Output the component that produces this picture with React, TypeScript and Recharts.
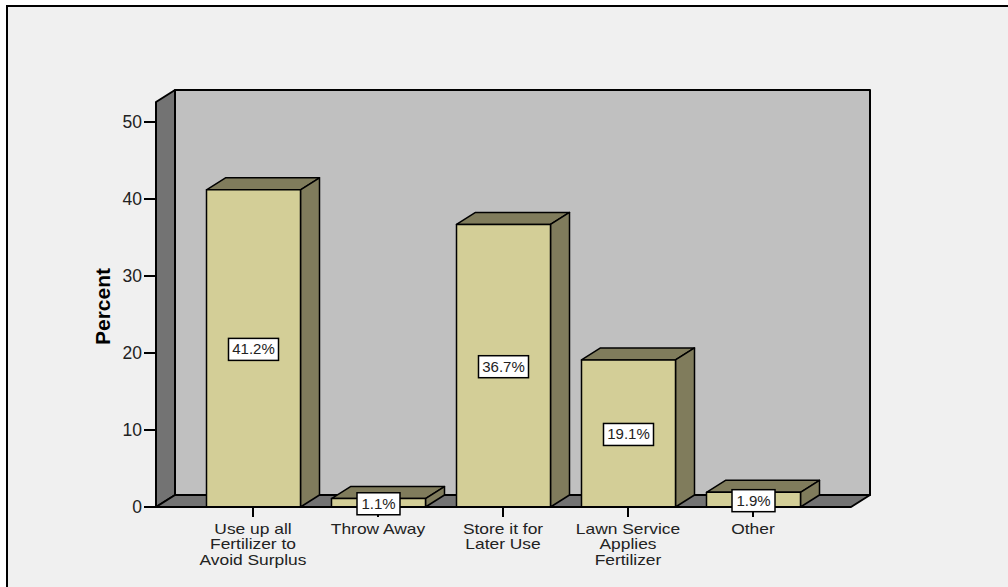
import { Bar, BarChart, LabelList, XAxis, YAxis, usePlotArea } from 'recharts'

const categories = ['Use up all Fertilizer to Avoid Surplus', 'Throw Away', 'Store it for Later Use', 'Lawn Service Applies Fertilizer', 'Other']
const tickLines: Record<string, string[]> = {
  'Use up all Fertilizer to Avoid Surplus': ['Use up all', 'Fertilizer to', 'Avoid Surplus'],
  'Throw Away': ['Throw Away'],
  'Store it for Later Use': ['Store it for', 'Later Use'],
  'Lawn Service Applies Fertilizer': ['Lawn Service', 'Applies', 'Fertilizer'],
  Other: ['Other'],
}
const percents = [41.2, 1.1, 36.7, 19.1, 1.9]
const yTicks = [0, 10, 20, 30, 40, 50]

const data = categories.map((name, i) => ({ name, percent: percents[i] }))

const DX = 19
const DY = 12
const FONT = '"Liberation Sans", Arial, sans-serif'
const INK = '#000'

function pts(list: number[][]) {
  return list.map((p) => p.join(',')).join(' ')
}

function Walls() {
  const plot = usePlotArea()
  if (!plot) return null
  const l = plot.x
  const r = plot.x + plot.width
  const t = plot.y
  const b = plot.y + plot.height
  return (
    <g stroke={INK} strokeWidth={2} strokeLinejoin="round">
      <polygon points={pts([[l + DX, t - DY], [r + DX, t - DY], [r + DX, b - DY], [l + DX, b - DY]])} fill="#c0c0c0" />
      <polygon points={pts([[l, t], [l + DX, t - DY], [l + DX, b - DY], [l, b]])} fill="#737373" />
      <polygon points={pts([[l, b], [l + DX, b - DY], [r + DX, b - DY], [r, b]])} fill="#737373" />
    </g>
  )
}

function Box3D(props: any) {
  const { x, y, width, height } = props
  return (
    <g stroke={INK} strokeWidth={1.5} strokeLinejoin="round">
      <polygon points={pts([[x, y], [x + DX, y - DY], [x + width + DX, y - DY], [x + width, y]])} fill="#807c5c" />
      <polygon points={pts([[x + width, y], [x + width + DX, y - DY], [x + width + DX, y + height - DY], [x + width, y + height]])} fill="#807c5c" />
      <rect x={x} y={y} width={width} height={height} fill="#d3ce97" />
    </g>
  )
}

function ValueBox(props: any) {
  const { x, y, width, height, value } = props
  const text = `${value}%`
  const boxWidth = text.length > 4 ? 50 : 43
  const cx = x + width / 2
  const cy = y + height / 2 + 1
  return (
    <g>
      <rect x={cx - boxWidth / 2} y={cy - 11} width={boxWidth} height={22} fill="#fff" stroke={INK} strokeWidth={1.5} />
      <text x={cx} y={cy + 5} textAnchor="middle" fontSize={15} fontFamily={FONT} fill="#222">
        {text}
      </text>
    </g>
  )
}

// the original's tick text is wider than Liberation at this line spacing
function CategoryTick(props: any) {
  const { x, y, payload } = props
  const lines = tickLines[payload.value] || [payload.value]
  return (
    <g transform={`translate(${x},0) scale(1.16,1)`}>
      <text textAnchor="middle" fontSize={15} fontFamily={FONT} fill="#222">
        {lines.map((line, i) => (
          <tspan key={line} x={0} y={y + 15 + i * 15.5}>
            {line}
          </tspan>
        ))}
      </text>
    </g>
  )
}

export default function App() {
  return (
    <div style={{ position: 'absolute', left: 0, top: 0, width: 1008, height: 587, background: '#fff', overflow: 'hidden' }}>
      <div style={{ position: 'absolute', left: 6, top: 5, width: 1010, height: 590, background: '#f0f0f0', border: '2px solid #000' }} />
      <div style={{ position: 'absolute', left: 0, top: 0 }}>
        <BarChart width={1008} height={587} data={data} margin={{ top: 102, right: 157, bottom: 20, left: 100 }}>
          <Walls />
          <XAxis
            dataKey="name"
            interval={0}
            height={60}
            padding={{ left: 34.5, right: 35.5 }}
            tick={<CategoryTick />}
            tickSize={10}
            axisLine={{ stroke: INK, strokeWidth: 2 }}
            tickLine={{ stroke: INK, strokeWidth: 2 }}
          />
          <YAxis
            width={56}
            domain={[0, 52.6]}
            ticks={yTicks}
            tickSize={12}
            axisLine={{ stroke: INK, strokeWidth: 2 }}
            tickLine={{ stroke: INK, strokeWidth: 2 }}
            tick={{ fill: '#222', fontSize: 17.5, fontFamily: FONT }}
            label={{ value: 'Percent', angle: -90, position: 'insideLeft', offset: 0, fill: '#000', fontSize: 21, fontWeight: 700, fontFamily: FONT, dx: 3, dy: 2, textAnchor: 'middle' }}
          />
          <Bar dataKey="percent" barSize={94} isAnimationActive={false} shape={<Box3D />}>
            <LabelList dataKey="percent" content={<ValueBox />} />
          </Bar>
        </BarChart>
      </div>
    </div>
  )
}
